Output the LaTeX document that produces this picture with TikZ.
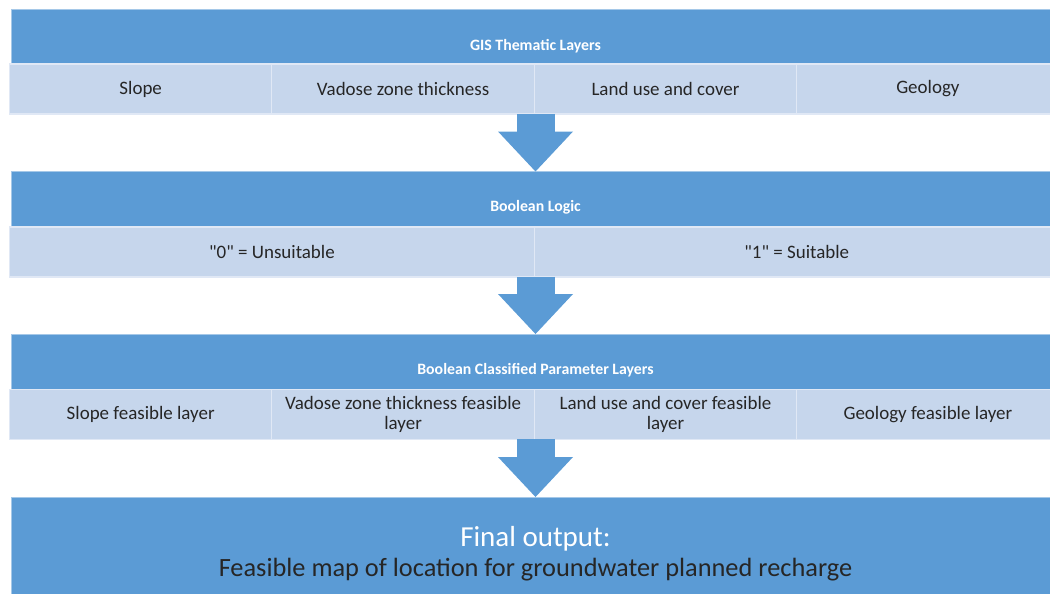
\documentclass[tikz,border=0pt]{standalone}
\usepackage{fontspec}
\setmainfont{Carlito}
\usepackage{tikz}
\usetikzlibrary{arrows.meta,calc}

\definecolor{hdrblue}{HTML}{5B9BD5}
\definecolor{celllight}{HTML}{C6D6EC}
\definecolor{celltext}{HTML}{262626}
\newcommand{\straightquote}{\XeTeXglyph\XeTeXcharglyph"0022\relax}

\begin{document}
\begin{tikzpicture}[x=0.02cm, y=-0.02cm,
		header/.style={rectangle, fill=hdrblue, draw=white!45!hdrblue, line width=0.5pt, inner sep=0pt, outer sep=0pt, minimum width=20.96cm, minimum height=1.1cm},
		hdrtext/.style={text=white, font=\fontsize{9}{11}\selectfont\bfseries, inner sep=0pt},
		cell/.style={rectangle, fill=celllight, draw=white!45!celllight, line width=0.6pt, inner sep=0pt, outer sep=0pt, minimum width=#1, minimum height=1cm, align=center, text=celltext, font=\fontsize{10.8}{11.4}\selectfont},
		cell/.default=5.248cm,
		blockarrow/.style={draw=hdrblue, line width=0.76cm, -{Triangle[width=1.5cm, length=0.8cm, line width'=0pt, fill=hdrblue]}}]
			\useasboundingbox (0,0) rectangle (1050,594);

			% Thematic layers
			\node[header] (gis) at (535.5,36.5) {};
			\node[hdrtext] (gistext) at ($(gis.south)+(0,-18)$) {GIS Thematic Layers};
			\node[cell] (slope) at (140.7,89) {Slope};
			\node[cell] (vadose) at (403.1,89) {Vadose zone thickness};
			\node[cell] (landuse) at (665.5,89) {Land use and cover};
			\node[cell] (geology) at (927.9,89) {Geology};

			% Boolean logic
			\node[header] (logic) at (535.5,199) {};
			\node[hdrtext] (logictext) at ($(logic.south)+(0,-19)$) {Boolean Logic};
			\node[cell=10.496cm] (zero) at (271.9,252) {\straightquote0\straightquote{} = Unsuitable};
			\node[cell=10.496cm] (one) at (796.7,252) {\straightquote1\straightquote{} = Suitable};

			% Classified layers
			\node[header] (classified) at (535.5,361.5) {};
			\node[hdrtext] (classifiedtext) at ($(classified.south)+(0,-19)$) {Boolean Classified Parameter Layers};
			\node[cell] (slopef) at (140.7,414.5) {Slope feasible layer};
			\node[cell] (vadosef) at (403.1,414.5) {Vadose zone thickness feasible\\layer};
			\node[cell] (landusef) at (665.5,414.5) {Land use and cover feasible\\layer};
			\node[cell] (geologyf) at (927.9,414.5) {Geology feasible layer};

			% Final output
			\node[header, minimum height=2.02cm] (final) at (535.5,547.5) {};
			\node[align=center, text=celltext, inner sep=0pt, font=\fontsize{15}{17}\selectfont] (finaltext) at ($(final.center)+(0,6)$)
				{{\fontsize{16.5}{17}\selectfont\textcolor{white}{Final output:}}\\Feasible map of location for groundwater planned recharge};

			% Arrows
			\draw[blockarrow] (logic.north |- vadose.south) -- (logic.north);
			\draw[blockarrow] (classified.north |- zero.south) -- (classified.north);
			\draw[blockarrow] (final.north |- vadosef.south) -- (final.north);
		\end{tikzpicture}
\end{document}
